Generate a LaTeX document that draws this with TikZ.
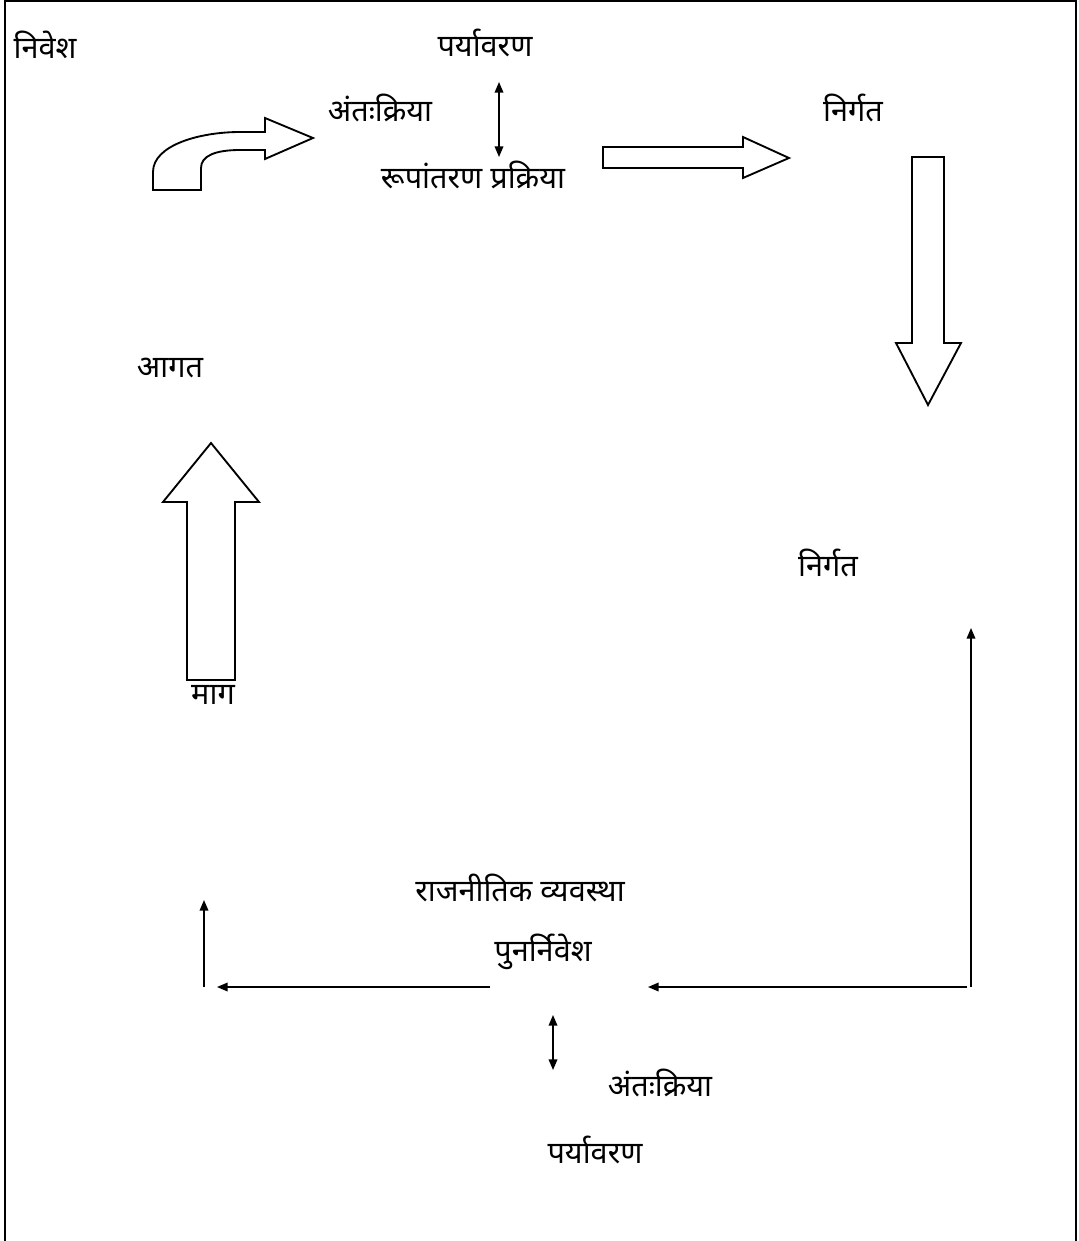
\documentclass[tikz,border=0pt]{standalone}
\usepackage{fontspec}
\newfontfamily\deva[Script=Devanagari]{Noto Sans}
\usepackage{tikz}
\usetikzlibrary{arrows.meta,positioning}

\begin{document}
\begin{tikzpicture}[x=0.75pt, y=-0.75pt,
  txt/.style={font=\deva\fontsize{23}{26}\selectfont, inner sep=0pt, anchor=center},
  blk/.style={draw, line width=1.4pt, line join=miter},
  arr/.style={-{Triangle[length=8pt, width=6.5pt]}, line width=1.1pt},
  dbl/.style={{Triangle[length=8pt, width=6.5pt]}-{Triangle[length=8pt, width=6.5pt]}, line width=1.1pt}
]
\useasboundingbox (0,0) rectangle (1078,1241);
\draw[line width=1.5pt] (5,1241) -- (5,1) -- (1076,1) -- (1076,1241);
\node[txt] (niv) at (45,45) {निवेश};
\node[txt] (par1) at (485,43) {पर्यावरण};
\node[txt] (ant1) at (380,108) {अंतःक्रिया};
\node[txt] (rup) at (473,175) {रूपांतरण प्रक्रिया};
\node[txt] (nir1) at (853,108) {निर्गत};
\node[txt] (aag) at (170,368) {आगत};
\node[txt] (mag) at (213,695) {माग};
\node[txt] (nir2) at (828,563) {निर्गत};
\node[txt] (raj) at (520,888) {राजनीतिक व्यवस्था};
\node[txt] (pun) at (543,952) {पुनर्निवेश};
\node[txt] (ant2) at (660,1083) {अंतःक्रिया};
\node[txt] (par2) at (595,1150) {पर्यावरण};
\coordinate (tupper) at (499,82);
\coordinate (tlower) at (499,157);
\coordinate (bupper) at (553,1015);
\coordinate (blower) at (553,1070);
\coordinate (rcorner) at (971,987);
\coordinate (rtop) at (971,628);
\coordinate (rstart) at (967,987);
\coordinate (rend) at (648,987);
\coordinate (lstart) at (490,987);
\coordinate (lend) at (217,987);
\coordinate (sbottom) at (204,987);
\coordinate (stop) at (204,900);
\draw[blk] (153,190) -- (153,172) .. controls (153,145) and (200,132) .. (240,132) -- (265,132) -- (265,118) -- (313,138) -- (265,159) -- (265,150) -- (240,150) .. controls (215,150) and (201,156) .. (201,168) -- (201,190) -- cycle;
\draw[blk] (603,147) -- (743,147) -- (743,137) -- (789,158) -- (743,178) -- (743,168) -- (603,168) -- cycle;
\draw[blk] (912,157) -- (944,157) -- (944,343) -- (961,343) -- (928,405) -- (896,343) -- (912,343) -- cycle;
\draw[blk] (187,680) -- (187,502) -- (163,502) -- (211,443) -- (259,502) -- (235,502) -- (235,680) -- cycle;
\draw[dbl] (tupper) -- (tlower);
\draw[dbl] (bupper) -- (blower);
\draw[arr] (rcorner) -- (rtop);
\draw[arr] (rstart) -- (rend);
\draw[arr] (lstart) -- (lend);
\draw[arr] (sbottom) -- (stop);
\end{tikzpicture}
\end{document}
